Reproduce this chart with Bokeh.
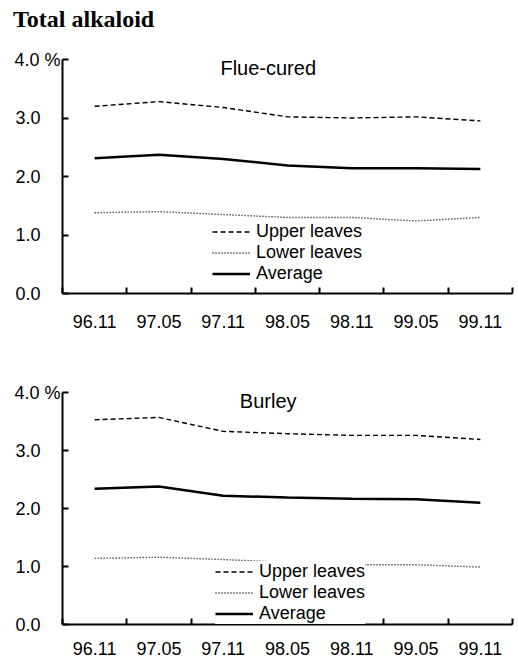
from bokeh.plotting import figure
from bokeh.models import FixedTicker, Legend, LegendItem, Label, Range1d, Div
from bokeh.layouts import column
from bokeh.embed import file_html
from bokeh.resources import INLINE

main_title = "Total alkaloid"
periods = ["96.11", "97.05", "97.11", "98.05", "98.11", "99.05", "99.11"]

flue_upper = [3.20, 3.28, 3.18, 3.02, 3.00, 3.02, 2.95]
flue_lower = [1.38, 1.40, 1.35, 1.30, 1.30, 1.24, 1.30]
flue_avg = [2.31, 2.37, 2.30, 2.19, 2.14, 2.14, 2.13]

burley_upper = [3.53, 3.57, 3.33, 3.29, 3.26, 3.26, 3.19]
burley_lower = [1.14, 1.16, 1.12, 1.07, 1.03, 1.03, 0.99]
burley_avg = [2.34, 2.38, 2.22, 2.19, 2.17, 2.16, 2.10]

y_ticks = [0, 1, 2, 3, 4]
y_unit = "%"
series_names = ["Upper leaves", "Lower leaves", "Average"]

FONT = "Liberation Sans"
PAD = "\u00a0" * 4


def make_panel(heading, upper, lower, avg, height, b_top, b_bottom, x_standoff, leg_loc,
               leg_pad, leg_spacing):
    n = len(periods)
    xs = [i + 0.5 for i in range(n)]
    p = figure(width=518, height=height, output_backend="svg", toolbar_location=None,
               x_range=Range1d(0, n), y_range=Range1d(0, 4),
               min_border_left=62, min_border_right=6, min_border_top=b_top, min_border_bottom=b_bottom)
    p.outline_line_color = None
    p.grid.visible = False
    p.background_fill_color = "white"
    p.border_fill_color = "white"

    r_up = p.line(xs, upper, line_color="black", line_width=1.4, line_dash="5 3")
    r_lo = p.line(xs, lower, line_color="black", line_width=1.4, line_dash="1 2")
    r_av = p.line(xs, avg, line_color="black", line_width=2.5)

    # x axis: boundary ticks (minor), labels at category centres
    xa = p.xaxis[0]
    xa.ticker = FixedTicker(ticks=xs, minor_ticks=list(range(0, n + 1)))
    xa.major_label_overrides = {x: lab for x, lab in zip(xs, periods)}
    xa.major_tick_line_color = None
    xa.major_tick_in = 0
    xa.major_tick_out = 0
    xa.minor_tick_in = 6
    xa.minor_tick_out = 0
    xa.minor_tick_line_width = 2
    xa.minor_tick_line_color = "black"
    xa.axis_line_width = 2
    xa.axis_line_color = "black"
    xa.major_label_text_font = FONT
    xa.major_label_text_font_size = "18px"
    xa.major_label_text_color = "black"
    xa.major_label_standoff = x_standoff

    # y axis
    ya = p.yaxis[0]
    ya.ticker = FixedTicker(ticks=y_ticks)
    overrides = {}
    for v in y_ticks:
        if v == y_ticks[-1]:
            overrides[v] = f"{v:.1f} {y_unit}"
        else:
            overrides[v] = f"{v:.1f}" + PAD
    ya.major_label_overrides = overrides
    ya.major_tick_in = 6
    ya.major_tick_out = 0
    ya.major_tick_line_width = 2
    ya.major_tick_line_color = "black"
    ya.minor_tick_line_color = None
    ya.axis_line_width = 2
    ya.axis_line_color = "black"
    ya.major_label_text_font = FONT
    ya.major_label_text_font_size = "18px"
    ya.major_label_text_color = "black"
    ya.major_label_standoff = 2

    p.add_layout(Label(x=3.2, y=4, y_offset=-8, text=heading, text_font=FONT,
                       text_font_size="20px", text_align="center", text_baseline="middle",
                       text_color="black"))

    legend = Legend(items=[LegendItem(label=series_names[0], renderers=[r_up]),
                           LegendItem(label=series_names[1], renderers=[r_lo]),
                           LegendItem(label=series_names[2], renderers=[r_av])],
                    location=leg_loc, orientation="vertical",
                    label_text_font=FONT, label_text_font_size="18px", label_text_color="black",
                    glyph_width=38, glyph_height=17, label_height=17, label_standoff=6,
                    spacing=leg_spacing, padding=leg_pad, margin=0,
                    border_line_color=None, background_fill_color="white", background_fill_alpha=1.0)
    p.add_layout(legend, "center")
    return p


title_div = Div(text=main_title, width=518, height=36, margin=(0, 0, 0, 0),
                styles={"font-family": "Liberation Serif", "font-weight": "bold",
                        "font-size": "24px", "line-height": "1", "color": "black",
                        "padding-left": "13px", "padding-top": "7px",
                        "box-sizing": "border-box", "white-space": "nowrap"})

p1 = make_panel("Flue-cured", flue_upper, flue_lower, flue_avg, 304, 23, 47, 21, (150, 9), 4, -3)
p2 = make_panel("Burley", burley_upper, burley_lower, burley_avg, 324, 52, 40, 17, (153, 0), 1, -4)

layout = column(title_div, p1, p2, spacing=0)
open("out.html", "w").write(file_html(layout, INLINE))
